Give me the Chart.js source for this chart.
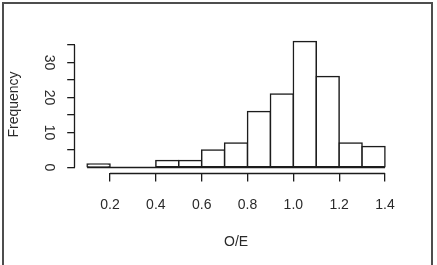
<!DOCTYPE html>
<html>
<head>
<meta charset="utf-8">
<script src="https://cdn.jsdelivr.net/npm/chart.js@4/dist/chart.umd.min.js"></script>
<style>
  html, body { margin: 0; padding: 0; background: #fff; }
  #wrap { position: relative; width: 437px; height: 265px; overflow: hidden; }
  #frame { position: absolute; left: 2px; top: 2px; width: 427px; height: 300px;
           border: 2px solid #4d4d4d; border-bottom: none; pointer-events: none; }
</style>
</head>
<body>
<div id="wrap">
  <canvas id="histChart" width="437" height="265"></canvas>
  <div id="frame"></div>
</div>
<script>
// histogram bins (left edges) and counts
const binStarts = [0.1, 0.2, 0.3, 0.4, 0.5, 0.6, 0.7, 0.8, 0.9, 1.0, 1.1, 1.2, 1.3];
const binWidth = 0.1;
const frequencies = [1, 0, 0, 2, 2, 5, 7, 16, 21, 36, 26, 7, 6];

const xTicks = [0.2, 0.4, 0.6, 0.8, 1.0, 1.2, 1.4];
const xTickLabels = ['0.2', '0.4', '0.6', '0.8', '1.0', '1.2', '1.4'];
const yTicks = [0, 5, 10, 15, 20, 25, 30, 35];
const yTickLabels = ['0', '', '10', '', '20', '', '30', ''];

const lineColor = '#1c1c1c';
const textColor = '#2a2a2a';
const font = { family: "'Liberation Sans', Arial, sans-serif", size: 14 };

// R draws its axis lines only from the first to the last tick
const axisLines = {
  id: 'axisLines',
  afterDraw(chart) {
    const { ctx } = chart;
    const x = chart.scales.x, y = chart.scales.y;
    ctx.save();
    ctx.strokeStyle = lineColor;
    ctx.lineWidth = 1.3;
    ctx.beginPath();
    const xy = Math.round(x.top) + 0.5;
    ctx.moveTo(x.getPixelForValue(xTicks[0]), xy);
    ctx.lineTo(x.getPixelForValue(xTicks[xTicks.length - 1]), xy);
    const yx = Math.round(y.right) - 0.5;
    ctx.moveTo(yx, y.getPixelForValue(yTicks[0]));
    ctx.lineTo(yx, y.getPixelForValue(yTicks[yTicks.length - 1]));
    ctx.stroke();
    ctx.restore();
  }
};

const lastEdge = binStarts[binStarts.length - 1] + binWidth;

new Chart(document.getElementById('histChart').getContext('2d'), {
  type: 'bar',
  data: {
    datasets: [
      {
        type: 'bar',
        data: binStarts.map((b, i) => ({ x: b + binWidth / 2, y: frequencies[i] })),
        backgroundColor: '#ffffff',
        borderColor: lineColor,
        borderWidth: 1.5,
        borderSkipped: false,
        inflateAmount: 0.75,
        barPercentage: 1,
        categoryPercentage: 1
      },
      {
        type: 'line',
        data: [{ x: binStarts[0], y: 0 }, { x: lastEdge, y: 0 }],
        borderColor: lineColor,
        borderWidth: 1.5,
        pointRadius: 0
      }
    ]
  },
  options: {
    responsive: false,
    animation: false,
    layout: { padding: { left: 0, top: 36.5, right: 40.1, bottom: 0 } },
    plugins: {
      legend: { display: false },
      tooltip: { enabled: false }
    },
    scales: {
      x: {
        type: 'linear',
        min: 0.048,
        max: 1.452,
        offset: false,
        afterBuildTicks: s => { s.ticks = xTicks.map(v => ({ value: v })); },
        afterFit: s => { s.height = 92.5; },
        border: { display: false },
        grid: { offset: false, drawOnChartArea: false, drawTicks: true, tickLength: 9, color: lineColor, lineWidth: 1.3 },
        ticks: {
          callback: (v, i) => xTickLabels[i],
          font: font, color: textColor, padding: 15, maxRotation: 0, autoSkip: false
        },
        title: { display: true, text: 'O/E', font: font, color: textColor, padding: { top: 4, bottom: 14 } }
      },
      y: {
        type: 'linear',
        min: -1.44,
        max: 37.44,
        afterBuildTicks: s => { s.ticks = yTicks.map(v => ({ value: v })); },
        afterFit: s => { s.width = 75.2; },
        border: { display: false },
        grid: { drawOnChartArea: false, drawTicks: true, tickLength: 8, color: lineColor, lineWidth: 1.3 },
        ticks: {
          callback: (v, i) => yTickLabels[i],
          font: font, color: textColor, padding: 11,
          minRotation: -90, maxRotation: -90, crossAlign: 'center', autoSkip: false
        },
        title: { display: true, text: 'Frequency', font: font, color: textColor, padding: { top: 5.6, bottom: 0 } }
      }
    }
  },
  plugins: [axisLines]
});
</script>
</body>
</html>
